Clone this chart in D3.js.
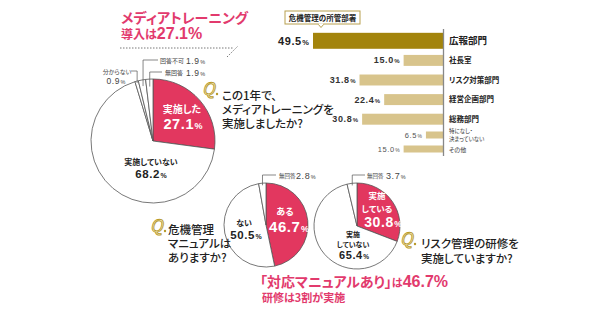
<!DOCTYPE html>
<html><head><meta charset="utf-8">
<script src="https://cdn.jsdelivr.net/npm/d3@7"></script>
<style>
body{margin:0;background:#fff}
text{font-family:"Noto Sans CJK JP","Noto Sans",sans-serif;font-feature-settings:"palt"}
</style>
</head><body>
<svg id="c" width="600" height="315"></svg>
<script>
// ---- data ----
const mediaLabels = ["実施した","実施していない","分からない","回答不可","無回答"];
const mediaValues = [27.1, 68.2, 0.9, 1.9, 1.9];
const manualLabels = ["ある","ない","無回答"];
const manualValues = [46.7, 50.5, 2.8];
const trainLabels = ["実施している","実施していない","無回答"];
const trainValues = [30.8, 65.4, 3.7];
const deptMain = ["広報部門","社長室","リスク対策部門","経営企画部門","総務部門"];
const deptMainValues = [49.5, 15.0, 31.8, 22.4, 30.8];
const deptMinor = ["特になし・決まっていない","その他"];
const deptMinorValues = [6.5, 15.0];

const RED = "#E2375F", PINK = "#E23A6D", GOLD_D = "#A3840C", GOLD_L = "#D8C48C", GOLD_T = "#B8992A";
const svg = d3.select("#c");
const NUMF = "'Liberation Sans',Arial,sans-serif";

function pct(sel, num, nSize, pSize, color, weight) {
  sel.append("tspan").attr("font-family", NUMF).attr("font-size", nSize).attr("font-weight", weight||"bold")
    .attr("fill", color).attr("letter-spacing", 0.6).text(num.toFixed(1));
  sel.append("tspan").attr("font-family", NUMF).attr("font-size", pSize).attr("font-weight", weight||"bold")
    .attr("fill", color).attr("dx", 0.5).text("%");
}
function txt(x, y, s, size, opts) {
  opts = opts || {};
  return svg.append("text").attr("x", x).attr("y", y).attr("font-size", size)
    .attr("font-weight", opts.w || "normal").attr("fill", opts.c || "#222")
    .attr("text-anchor", opts.a || "start").text(s);
}
function qIcon(x, y) {
  svg.append("text").attr("x", x).attr("y", y).attr("font-family", "'DejaVu Serif',serif")
    .attr("font-style", "italic").attr("font-size", 17).attr("fill", "#f7efc8")
    .attr("stroke", GOLD_T).attr("stroke-width", 0.9).text("Q");
  svg.append("circle").attr("cx", x + 15).attr("cy", y - 1).attr("r", 1.2).attr("fill", GOLD_T);
}
function drawPie(cx, cy, r, values, colors) {
  const pie = d3.pie().sort(null).value(d => d)(values);
  const arc = d3.arc().innerRadius(0).outerRadius(r);
  const g = svg.append("g").attr("transform", `translate(${cx},${cy})`);
  g.selectAll("path").data(pie).join("path").attr("d", arc)
    .attr("fill", (d, i) => colors[i]).attr("stroke", "#555").attr("stroke-width", 0.8);
  return pie;
}
function leader(cx, cy, r, slice, ly, lx, rf) {
  const a = (slice.startAngle + slice.endAngle) / 2;
  const sx = cx + r * rf * Math.sin(a), sy = cy - r * rf * Math.cos(a);
  svg.append("polyline").attr("points", `${sx},${sy} ${sx},${ly} ${lx},${ly}`)
    .attr("fill", "none").attr("stroke", "#555").attr("stroke-width", 0.7);
  return sx;
}

// ---- Top title ----
txt(121, 23, "メディアトレーニング", 14, {w: "bold", c: PINK});
const t2 = txt(121, 39, "", 12, {w: "bold", c: PINK});
t2.append("tspan").text("導入は");
t2.append("tspan").attr("font-family", NUMF).attr("font-size", 16).attr("font-weight", "bold").text("27.1%");
svg.append("line").attr("x1", 120).attr("x2", 233).attr("y1", 48).attr("y2", 48)
  .attr("stroke", "#555").attr("stroke-width", 0.8).attr("stroke-dasharray", "1.5,1.5");
svg.append("line").attr("x1", 227).attr("x2", 238).attr("y1", 57).attr("y2", 46)
  .attr("stroke", "#555").attr("stroke-width", 0.8).attr("stroke-dasharray", "1.5,1.5");

// ---- Pie 1 : media training ----
const p1 = {x: 153, y: 141, r: 62};
const s1 = drawPie(p1.x, p1.y, p1.r, mediaValues, [RED, "#fff", "#fff", "#fff", "#fff"]);
txt(182, 113, mediaLabels[0], 10, {w: "bold", c: "#fff", a: "middle"});
pct(txt(183, 129, "", 14, {a: "middle"}), mediaValues[0], 14.5, 9, "#fff");
txt(151, 165, mediaLabels[1], 8, {w: "bold", a: "middle"});
pct(txt(151, 177.5, "", 11, {a: "middle"}), mediaValues[1], 11.5, 7, "#222");
// leaders for small slices
leader(p1.x, p1.y, p1.r, s1[2], 71, 131, 0.97);
txt(117, 74, mediaLabels[2], 6, {a: "middle", c: "#444"});
pct(txt(116, 84, "", 8, {a: "middle"}), mediaValues[2], 8.5, 5.5, "#444", "normal");
leader(p1.x, p1.y, p1.r, s1[3], 60, 158, 0.9);
txt(160, 62.5, mediaLabels[3], 6, {c: "#444"});
pct(txt(186, 63.5, "", 8), mediaValues[3], 8.5, 5.5, "#444", "normal");
leader(p1.x, p1.y, p1.r, s1[4], 72, 162, 0.88);
txt(165, 74.5, mediaLabels[4], 6, {c: "#444"});
pct(txt(186, 75.5, "", 8), mediaValues[4], 8.5, 5.5, "#444", "normal");
// question
qIcon(202, 95);
txt(222, 100, "この1年で、", 11.5, {w: "500"});
txt(222, 114, "メディアトレーニングを", 11.5, {w: "500"});
txt(222, 128, "実施しましたか?", 11.5, {w: "500"});

// ---- Bar chart: departments ----
const barRight = 443;
const xb = d3.scaleLinear().domain([0, 50]).range([barRight, barRight - 131.3]);
const yMain = d3.scaleBand().domain(deptMain).range([31, 129]).paddingInner(0.44).paddingOuter(0.22);
const yMinor = d3.scaleBand().domain(deptMinor).range([128, 156]).paddingInner(0.5).paddingOuter(0.25);
// title box
svg.append("rect").attr("x", 285).attr("y", 11).attr("width", 75).attr("height", 13)
  .attr("fill", "#fff").attr("stroke", "#B8A04E").attr("stroke-width", 1);
svg.append("path").attr("d", "M318,24 L321,27.5 L324,24").attr("fill", "#fff").attr("stroke", "#B8A04E").attr("stroke-width", 1);
svg.append("line").attr("x1", 318.6).attr("x2", 323.4).attr("y1", 24).attr("y2", 24).attr("stroke", "#fff").attr("stroke-width", 1.2);
txt(322.5, 21, "危機管理の所管部署", 7.5, {w: "bold", a: "middle"});

const mainData = deptMain.map((d, i) => ({cat: d, v: deptMainValues[i], i}));
svg.append("g").selectAll("rect").data(mainData).join("rect")
  .attr("x", d => xb(d.v)).attr("width", d => barRight - xb(d.v))
  .attr("y", d => d.i === 0 ? yMain(d.cat) - 2.5 : yMain(d.cat))
  .attr("height", d => d.i === 0 ? yMain.bandwidth() + 5 : yMain.bandwidth())
  .attr("fill", d => d.i === 0 ? GOLD_D : GOLD_L);
const minorData = deptMinor.map((d, i) => ({cat: d, v: deptMinorValues[i]}));
svg.append("g").selectAll("rect").data(minorData).join("rect")
  .attr("x", d => xb(d.v)).attr("width", d => barRight - xb(d.v))
  .attr("y", d => yMinor(d.cat)).attr("height", yMinor.bandwidth()).attr("fill", GOLD_L);
// axis line
svg.append("line").attr("x1", barRight + 0.5).attr("x2", barRight + 0.5).attr("y1", 29).attr("y2", 156)
  .attr("stroke", "#888").attr("stroke-width", 1.3);
// value labels
mainData.forEach(d => {
  const cy = yMain(d.cat) + yMain.bandwidth() / 2;
  const t = txt(xb(d.v) - 4, cy + (d.i === 0 ? 4 : 3), "", 10, {a: "end"});
  if (d.i === 0) pct(t, d.v, 11, 7.5, "#222"); else pct(t, d.v, 9, 6, "#333");
  txt(449, cy + (d.i === 0 ? 3.5 : 2.8), d.cat, d.i === 0 ? 9.5 : 7.5, {w: "bold", c: "#222"});
});
minorData.forEach((d, i) => {
  const cy = yMinor(d.cat) + yMinor.bandwidth() / 2;
  pct(txt(xb(d.v) - 4, cy + 2.5, "", 7, {a: "end"}), d.v, 7.5, 5, "#555", "normal");
});
{
  const c0 = yMinor(deptMinor[0]) + yMinor.bandwidth() / 2;
  txt(449, c0 - 1.8, "特になし・", 5.5, {c: "#333"});
  txt(449, c0 + 6, "決まっていない", 5.5, {c: "#333"});
  const c1 = yMinor(deptMinor[1]) + yMinor.bandwidth() / 2;
  txt(449, c1 + 2.8, deptMinor[1], 6, {c: "#333"});
}

// ---- Pie 2: manual ----
const p2 = {x: 266, y: 225, r: 42};
const s2 = drawPie(p2.x, p2.y, p2.r, manualValues, [RED, "#fff", "#fff"]);
txt(285, 215, manualLabels[0], 9, {w: "bold", c: "#fff", a: "middle"});
pct(txt(289, 232, "", 15, {a: "middle"}), manualValues[0], 15, 9, "#fff");
txt(244, 226, manualLabels[1], 8, {w: "bold", a: "middle"});
pct(txt(246, 238.5, "", 11, {a: "middle"}), manualValues[1], 11.5, 7, "#222");
leader(p2.x, p2.y, p2.r, s2[2], 175, 276, 0.95);
txt(279, 177.5, manualLabels[2], 5.5, {c: "#444"});
pct(txt(296, 178.5, "", 8.5), manualValues[2], 9, 5.5, "#444", "normal");
qIcon(150, 232);
txt(168, 234, "危機管理", 11.5, {w: "500"});
txt(168, 248, "マニュアルは", 11.5, {w: "500"});
txt(168, 262, "ありますか?", 11.5, {w: "500"});

// ---- Pie 3: training ----
const p3 = {x: 357, y: 226, r: 43};
const s3 = drawPie(p3.x, p3.y, p3.r, trainValues, [RED, "#fff", "#fff"]);
txt(377, 199, "実施", 8.5, {w: "bold", c: "#fff", a: "middle"});
txt(377, 211.5, "している", 8.5, {w: "bold", c: "#fff", a: "middle"});
pct(txt(383, 226.5, "", 14, {a: "middle"}), trainValues[0], 14, 8.5, "#fff");
txt(353, 236.5, "実施", 7, {w: "bold", a: "middle"});
txt(353, 246.8, "していない", 7, {w: "bold", a: "middle"});
pct(txt(354, 258.5, "", 10.5, {a: "middle"}), trainValues[1], 11, 6.5, "#222");
leader(p3.x, p3.y, p3.r, s3[2], 175, 365, 0.95);
txt(367, 177.5, trainLabels[2], 5.5, {c: "#444"});
pct(txt(386, 178.5, "", 8.5), trainValues[2], 9, 5.5, "#444", "normal");
qIcon(400, 245);
txt(421, 248, "リスク管理の研修を", 11.5, {w: "500"});
txt(421, 263, "実施していますか?", 11.5, {w: "500"});

// ---- Bottom title ----
const b1 = txt(260, 287, "", 14, {w: "bold", c: PINK});
b1.append("tspan").text("「対応マニュアルあり」");
b1.append("tspan").attr("font-size", 11).text("は");
b1.append("tspan").attr("font-family", NUMF).attr("font-size", 16).text("46.7%");
txt(262, 302, "研修は3割が実施", 11, {w: "bold", c: PINK});
</script>
</body></html>
